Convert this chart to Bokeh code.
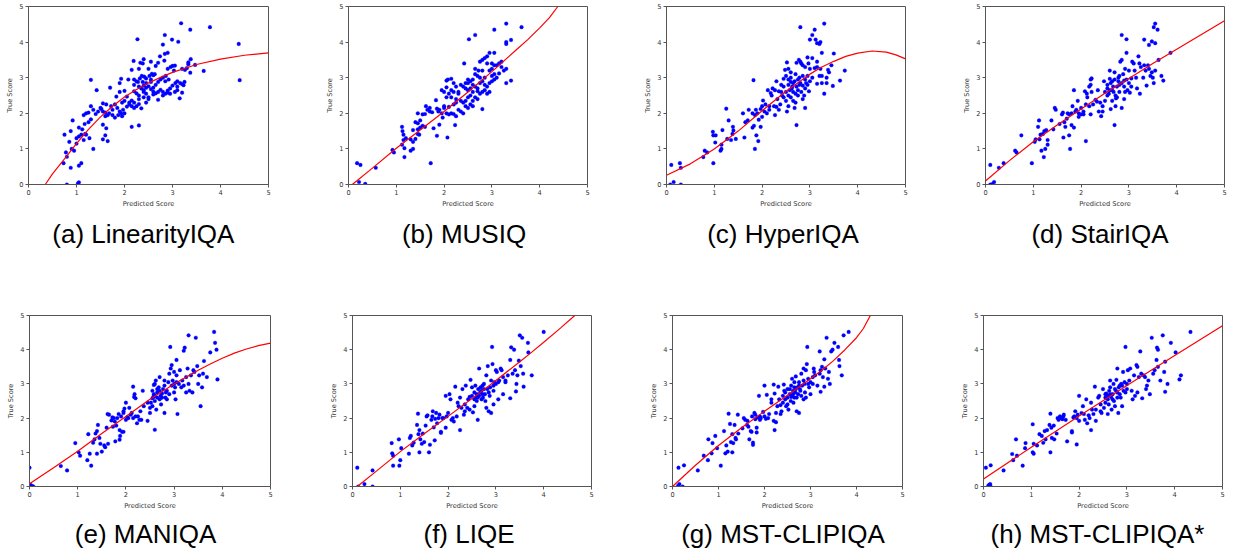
from bokeh.plotting import figure
from bokeh.layouts import row, column
from bokeh.models import Range1d, FixedTicker, Div
from bokeh.embed import file_html
from bokeh.resources import INLINE

captions = ["(a) LinearityIQA", "(b) MUSIQ", "(c) HyperIQA", "(d) StairIQA",
            "(e) MANIQA", "(f) LIQE", "(g) MST-CLIPIQA", "(h) MST-CLIPIQA*"]
tick_values = [0, 1, 2, 3, 4, 5]
x_label = "Predicted Score"
y_label = "True Score"

# (predicted, true) pairs
pts_a = [(3.18,4.53),(3.78,4.42),(3.37,4.35),(2.84,4.2),(2.27,4.08),(2.99,4.07),(3.12,4.01),(4.38,3.95),(2.8,3.93),(2.9,3.7),(2.84,3.67),(2.74,3.6),(2.4,3.52),(2.19,3.47),(2.33,3.42),(2.55,3.45),(2.83,3.48),(3.38,3.52),(3.33,3.43),(3.33,3.38),(3.47,3.36),(3.0,3.33),(2.96,3.3),(3.05,3.34),(2.9,3.25),(3.03,3.2),(3.2,3.25),(3.26,3.22),(3.3,3.27),(3.65,3.19),(3.37,3.14),(4.4,2.93),
         (1.3,2.94),(1.42,2.65),(1.7,2.72),(1.9,2.85),(1.93,2.97),(2.08,2.95),(2.15,3.22),(2.3,3.25),(2.38,3.4),(2.5,3.25),(2.65,3.33),(2.7,3.42),(2.63,3.1),
         (2.2,2.95),(2.25,2.9),(2.28,2.88),(2.32,2.98),(2.36,3.05),(2.41,3.03),(2.45,2.98),(2.52,3.05),(2.57,3.11),(2.6,3.07),(2.2,2.8),(2.3,2.75),(2.35,2.7),(2.4,2.65),(2.45,2.72),(2.5,2.76),(2.55,2.68),(2.6,2.61),(2.65,2.56),(2.7,2.6),(2.75,2.66),(2.8,2.6),(2.85,2.55),(2.9,2.64),(2.95,2.7),(3.0,2.78),(3.06,2.85),(2.7,2.88),(2.75,2.95),(2.8,3.0),(2.86,3.05),(2.92,2.95),(3.1,2.9),(3.16,2.85),(3.2,2.82),(3.25,2.88),(3.23,2.79),(3.1,2.65),(3.05,2.6),(3.2,2.58),(3.15,2.42),(2.8,2.5),(2.7,2.38),(2.6,2.53),(2.5,2.45),(2.45,2.55),(2.4,2.6),(2.3,2.5),(2.25,2.56),(2.2,2.62),(2.15,2.36),(2.1,2.25),(2.05,2.19),(2.0,2.35),(1.95,2.3),(2.2,2.15),(2.25,2.2),(2.3,2.26),(2.35,2.14),(2.45,2.3),(2.5,2.4),(2.3,2.4),(2.2,2.3),(2.4,2.45),(2.6,2.72),(2.65,2.8),(2.55,2.88),(2.45,2.85),(2.95,2.55),(2.9,2.58),(3.1,2.75),(2.85,2.9),(2.55,2.95),(2.38,2.88),
         (1.85,2.15),(1.9,2.05),(1.87,1.95),(1.93,2.0),(1.97,2.1),(1.8,2.25),(1.75,2.1),(1.72,2.2),(1.68,2.0),(1.65,1.95),(1.6,2.02),(1.55,2.05),(1.5,2.15),(1.52,2.12),(1.45,2.05),(1.4,1.98),(1.35,2.1),(1.3,2.2),(1.2,2.0),(1.25,2.02),(1.15,1.95),(1.6,1.92),(1.62,2.25),(1.55,2.28),(1.8,1.88),(1.83,2.47),(1.9,2.6),(2.0,2.63),(2.05,2.47),(1.3,1.83),(1.25,1.75),(1.17,1.7),(1.12,1.55),(1.05,1.6),(1.1,1.4),(1.05,1.35),(1.0,1.15),(0.85,1.2),(0.88,1.5),(0.92,1.8),(0.75,1.4),(0.9,1.0),(0.95,0.95),(0.78,0.9),(0.8,0.78),(0.73,0.6),(0.88,0.47),(1.05,0.53),(1.1,0.6),(0.8,0.0),(1.03,0.03),(1.05,0.06),(1.2,1.4),(1.15,1.25),(1.27,1.3),(1.35,1.0),(1.18,1.42),(1.55,1.68),(1.6,1.38),(1.62,1.58),(1.65,1.22),(1.55,1.27),(2.15,1.62),(2.3,1.66),(2.0,2.0),(2.1,2.3),(2.15,2.2),(2.4,2.78),(1.95,1.92),(1.75,1.95),(1.0,1.3)]

pts_b = [(0.18,0.6),(0.25,0.55),(0.22,0.07),(0.35,0.02),(0.57,0.47),(0.92,0.97),(0.95,0.9),(1.17,0.77),(1.72,0.6),(1.12,1.62),(1.13,1.5),(1.15,1.4),(1.2,1.3),(1.15,1.25),(1.12,1.12),(1.17,1.02),(1.3,0.95),(1.35,1.0),(1.3,1.27),(1.35,1.2),(1.4,1.28),(1.45,1.42),(1.48,1.4),(1.35,1.53),(1.45,1.55),(1.5,1.6),(1.4,1.75),(1.45,1.72),(1.5,1.8),(1.55,1.65),(1.6,1.62),(1.45,2.0),(1.55,1.97),(1.6,1.98),(1.65,2.1),(1.62,2.2),(1.7,2.15),(1.75,2.03),(1.78,1.58),(1.85,1.37),(1.9,1.68),(1.83,2.37),(1.85,2.13),(1.88,2.05),(1.9,2.1),(1.95,2.0),(1.97,1.88),(2.0,2.2),(2.0,2.15),(2.05,2.0),(2.1,1.97),(2.15,2.0),(2.2,1.98),(2.25,1.92),(2.23,1.67),(2.07,1.32),(2.3,2.1),(2.2,2.25),(2.25,2.3),(2.05,2.45),(2.1,2.55),(2.0,2.6),(1.95,2.65),(2.05,2.73),(2.08,2.95),(2.05,2.92),(2.15,2.97),(2.2,2.85),(2.25,2.75),(2.15,2.65),(2.2,2.6),(2.3,2.55),(2.35,2.35),(2.4,2.3),(2.45,2.2),(2.35,2.05),(2.4,2.0),(2.5,2.15),(2.55,2.25),(2.45,2.35),(2.5,2.45),(2.55,2.5),(2.6,2.35),(2.65,2.45),(2.7,2.4),(2.75,2.55),(2.8,2.6),(2.8,2.12),(2.6,2.2),(2.5,2.65),(2.45,2.7),(2.4,2.75),(2.45,2.85),(2.5,2.85),(2.55,2.9),(2.6,2.8),(2.65,2.75),(2.7,2.7),(2.6,2.95),(2.65,3.1),(2.7,3.05),(2.75,3.0),(2.8,2.9),(2.85,2.8),(2.9,2.75),(2.95,2.6),(2.9,2.55),(2.85,2.65),(2.95,2.85),(3.0,2.9),(3.0,3.05),(2.95,3.2),(3.0,3.25),(3.05,3.35),(3.0,3.4),(2.9,3.4),(2.85,3.55),(2.8,3.5),(2.75,3.45),(2.9,3.6),(2.95,3.7),(3.1,3.35),(3.15,3.4),(3.2,3.3),(3.25,3.2),(3.1,3.0),(3.05,3.1),(3.15,3.12),(3.05,2.95),(3.3,2.85),(3.4,2.92),(3.3,3.25),(3.05,3.7),(2.42,3.4),(2.65,3.25),(2.72,3.2),(2.65,4.2),(2.52,4.08),(3.05,4.35),(3.3,4.52),(3.62,4.42),(3.4,4.06),(3.3,4.0),(3.3,3.95),(2.7,2.62),(2.6,2.6),(2.55,2.7),(2.35,2.8),(2.3,2.6),(2.15,2.45),(2.25,2.4),(2.1,2.18),(1.7,2.05),(2.75,2.85),(2.85,3.0),(2.5,2.95),(2.8,3.2),(3.2,3.45)]

pts_c = [(0.08,0.0),(0.15,0.07),(0.3,0.0),(0.1,0.55),(0.28,0.6),(0.3,0.47),(0.77,0.77),(0.8,0.95),(0.85,0.9),(0.98,0.6),(0.98,1.38),(0.97,1.48),(1.03,1.38),(1.02,1.18),(1.15,1.0),(1.13,0.95),(1.15,1.12),(1.17,1.53),(1.25,2.13),(1.3,1.8),(1.27,1.28),(1.35,1.25),(1.38,1.42),(1.4,1.52),(1.39,1.62),(1.45,1.28),(1.6,2.0),(1.63,1.32),(1.65,1.75),(1.7,1.8),(1.72,2.1),(1.8,2.0),(1.82,2.93),(1.8,1.6),(1.83,1.65),(1.85,1.95),(1.87,2.1),(1.9,2.0),(1.93,1.82),(1.88,1.38),(1.92,1.22),(1.85,1.0),(1.97,1.62),(1.97,2.12),(2.0,2.2),(2.02,2.36),(2.05,2.05),(2.07,2.25),(2.1,2.0),(2.15,2.2),(2.12,2.65),(2.18,2.57),(2.2,2.5),(2.25,2.2),(2.3,2.18),(2.35,2.1),(2.27,1.95),(2.22,2.7),(2.27,2.65),(2.3,2.9),(2.35,2.62),(2.4,2.8),(2.45,2.97),(2.5,3.05),(2.48,3.22),(2.52,3.43),(2.45,2.75),(2.5,2.6),(2.55,2.5),(2.5,2.35),(2.55,2.2),(2.52,2.05),(2.55,2.8),(2.6,2.88),(2.62,2.7),(2.65,2.6),(2.6,2.45),(2.65,2.35),(2.7,2.3),(2.68,2.15),(2.72,1.67),(2.75,2.5),(2.72,2.75),(2.75,2.95),(2.7,3.1),(2.72,3.42),(2.77,3.5),(2.8,3.45),(2.82,3.4),(2.85,3.35),(2.78,3.0),(2.8,2.85),(2.85,2.78),(2.9,2.7),(2.88,2.5),(2.85,2.4),(2.9,2.15),(2.95,2.8),(2.98,2.62),(3.0,2.9),(2.95,3.05),(3.0,3.25),(2.9,3.3),(2.95,3.57),(3.05,3.55),(3.1,3.27),(3.15,3.3),(3.2,3.05),(3.22,3.25),(3.25,3.05),(3.15,2.83),(3.25,2.85),(3.35,2.85),(3.3,2.55),(3.35,3.0),(3.4,3.15),(3.45,3.35),(3.38,3.22),(3.48,2.77),(3.5,3.68),(3.63,2.92),(3.73,3.2),(3.15,3.45),(2.8,4.42),(3.3,4.52),(3.1,4.35),(3.05,4.2),(3.0,4.07),(3.12,4.07),(3.15,3.97),(3.2,3.95),(3.22,4.0),(3.25,3.7),(2.65,2.85),(2.6,3.0),(2.55,2.95),(2.4,2.6),(2.45,2.45),(2.58,2.65),(2.68,2.9),(2.75,2.65),(2.82,2.6),(2.92,2.85),(3.05,3.0),(2.63,2.75),(2.7,2.55),(2.85,3.05),(2.9,2.95),(2.78,2.8),(2.0,1.9),(2.15,2.1),(2.32,2.4),(2.42,2.5),(2.38,2.25),(2.6,3.15),(2.55,3.25),(2.97,3.4)]

pts_d = [(0.1,0.55),(0.1,0.0),(0.15,0.02),(0.18,0.07),(0.28,0.47),(0.38,0.6),(0.62,0.95),(0.65,0.9),(0.75,1.38),(0.97,0.6),(1.03,1.2),(1.05,1.27),(1.1,1.62),(1.12,1.8),(1.15,1.4),(1.13,1.27),(1.17,0.95),(1.2,1.42),(1.23,1.5),(1.27,1.53),(1.22,0.77),(1.25,1.0),(1.3,1.25),(1.3,1.12),(1.38,1.8),(1.45,2.15),(1.47,2.1),(1.42,1.55),(1.55,1.7),(1.6,1.97),(1.62,2.02),(1.63,1.32),(1.65,1.75),(1.67,1.62),(1.7,1.85),(1.72,2.0),(1.75,1.38),(1.77,1.0),(1.75,1.97),(1.8,2.0),(1.82,2.2),(1.8,1.67),(1.85,1.6),(1.85,2.65),(1.88,2.05),(1.9,2.1),(1.93,2.35),(1.95,2.0),(1.95,1.9),(2.0,2.15),(2.0,1.97),(2.05,2.05),(2.05,1.97),(2.08,2.62),(2.1,2.25),(2.12,2.55),(2.1,1.22),(2.13,2.45),(2.17,2.75),(2.17,2.2),(2.2,2.95),(2.22,2.98),(2.2,2.8),(2.22,2.6),(2.2,1.97),(2.25,2.25),(2.3,2.38),(2.35,2.65),(2.33,2.33),(2.37,2.05),(2.4,2.3),(2.42,1.92),(2.45,2.2),(2.45,2.05),(2.5,2.35),(2.5,2.6),(2.48,2.9),(2.55,2.8),(2.55,2.5),(2.6,2.97),(2.6,3.2),(2.62,2.85),(2.6,2.65),(2.62,2.12),(2.65,2.35),(2.65,2.65),(2.67,2.75),(2.7,3.15),(2.7,2.95),(2.72,2.5),(2.72,2.2),(2.73,2.42),(2.7,1.67),(2.75,2.45),(2.75,2.75),(2.78,2.9),(2.8,2.8),(2.8,2.6),(2.82,3.45),(2.85,3.5),(2.85,4.2),(2.88,3.1),(2.9,2.92),(2.9,2.75),(2.85,2.15),(2.9,2.4),(2.92,3.25),(2.95,3.7),(2.95,4.08),(2.97,2.65),(3.0,2.85),(3.0,3.2),(3.02,2.58),(3.05,2.75),(3.07,3.45),(3.1,3.4),(3.12,3.2),(3.15,3.0),(3.17,2.7),(3.2,3.6),(3.22,3.4),(3.25,3.3),(3.23,2.55),(3.3,3.0),(3.32,3.35),(3.35,3.2),(3.37,2.78),(3.4,3.35),(3.42,3.25),(3.45,3.05),(3.48,3.15),(3.5,3.0),(3.52,2.85),(3.55,3.2),(3.62,3.5),(3.68,3.05),(3.72,2.92),(3.87,3.7),(3.32,4.07),(3.42,3.92),(3.48,4.02),(3.52,4.42),(3.55,4.52),(3.6,4.35),(3.55,3.97),(2.78,3.0),(2.65,2.9),(2.55,2.7),(2.85,2.85),(2.95,2.95),(2.58,2.55),(2.68,2.6),(2.92,2.6),(2.8,3.05),(3.05,2.98)]

pts_e = [(0.0,0.55),(0.02,0.05),(0.05,0.02),(0.08,0.0),(0.65,0.6),(0.78,0.47),(0.95,1.27),(1.02,1.0),(1.05,0.9),(1.2,0.77),(1.22,1.53),(1.25,0.96),(1.28,0.61),(1.32,1.28),(1.35,1.38),(1.37,1.55),(1.4,1.62),(1.42,1.8),(1.4,0.96),(1.45,1.42),(1.47,1.25),(1.5,1.02),(1.55,1.2),(1.57,1.15),(1.6,1.72),(1.62,2.12),(1.65,2.1),(1.63,1.25),(1.7,1.93),(1.72,2.02),(1.75,2.0),(1.73,1.75),(1.77,1.9),(1.78,1.32),(1.8,1.78),(1.82,2.0),(1.85,2.12),(1.87,1.65),(1.88,1.48),(1.87,1.37),(1.9,2.05),(1.92,1.6),(1.95,1.6),(1.95,2.2),(1.97,2.28),(2.0,2.45),(2.0,1.95),(2.03,2.03),(2.05,2.0),(2.07,2.3),(2.1,2.1),(2.15,2.0),(2.15,2.92),(2.17,2.62),(2.18,2.7),(2.2,2.58),(2.2,2.05),(2.23,1.85),(2.25,2.05),(2.28,1.95),(2.3,2.2),(2.32,1.95),(2.35,2.8),(2.37,2.35),(2.45,1.92),(2.5,2.15),(2.5,2.3),(2.52,2.45),(2.55,2.58),(2.55,2.35),(2.57,2.62),(2.58,2.7),(2.58,2.97),(2.6,3.0),(2.6,2.5),(2.6,1.66),(2.62,3.1),(2.63,2.25),(2.65,2.6),(2.65,2.75),(2.68,2.9),(2.7,3.2),(2.7,2.8),(2.72,2.65),(2.73,2.4),(2.75,2.72),(2.77,2.85),(2.8,2.95),(2.8,2.15),(2.82,2.6),(2.83,2.75),(2.85,2.55),(2.88,3.05),(2.9,3.3),(2.92,4.08),(2.93,3.45),(2.95,3.55),(2.97,3.1),(3.0,3.0),(3.0,2.75),(3.02,2.9),(3.03,2.55),(3.05,3.25),(3.05,3.7),(3.07,2.12),(3.1,3.0),(3.12,3.4),(3.15,2.9),(3.17,3.1),(3.2,2.95),(3.2,3.97),(3.22,4.06),(3.25,2.75),(3.25,3.2),(3.28,3.45),(3.3,3.0),(3.3,4.42),(3.32,2.8),(3.35,3.25),(3.38,2.75),(3.4,3.4),(3.45,4.35),(3.42,3.35),(3.48,3.52),(3.5,3.0),(3.52,3.25),(3.55,2.35),(3.58,2.9),(3.6,3.3),(3.62,3.67),(3.68,3.2),(3.75,3.92),(3.83,4.52),(3.85,4.2),(3.88,4.0),(3.9,3.13),(2.65,2.85),(2.75,2.6),(2.85,2.8),(2.95,2.95),(2.6,2.65),(2.7,2.55),(2.9,2.7),(3.05,3.05),(2.55,2.8),(2.45,2.45),(2.8,3.1),(3.0,3.35),(1.95,2.15),(2.12,2.15)]

pts_f = [(0.1,0.55),(0.12,0.0),(0.25,0.07),(0.42,0.0),(0.42,0.47),(0.82,1.27),(0.83,0.97),(0.85,0.9),(0.85,0.61),(0.97,1.38),(0.98,0.61),(1.0,0.77),(1.02,1.12),(1.18,0.96),(1.2,1.42),(1.22,1.48),(1.25,1.2),(1.28,1.28),(1.35,1.8),(1.37,2.13),(1.38,1.53),(1.4,1.65),(1.42,1.38),(1.4,1.0),(1.45,1.25),(1.47,1.55),(1.5,1.3),(1.53,1.78),(1.55,2.05),(1.57,2.08),(1.6,1.0),(1.62,1.22),(1.65,1.95),(1.67,2.05),(1.68,2.2),(1.7,1.73),(1.72,1.35),(1.73,1.98),(1.75,2.15),(1.77,1.85),(1.8,2.0),(1.82,2.1),(1.85,1.6),(1.85,1.57),(1.88,2.0),(1.9,2.0),(1.95,2.65),(1.95,1.72),(1.97,2.05),(2.0,2.15),(2.03,2.7),(2.05,2.55),(2.07,1.95),(2.1,2.0),(2.12,1.9),(2.15,2.92),(2.18,2.05),(2.2,2.45),(2.22,2.35),(2.25,2.6),(2.25,1.65),(2.28,2.3),(2.3,2.85),(2.33,2.1),(2.35,2.2),(2.37,2.95),(2.4,2.3),(2.42,2.55),(2.45,2.25),(2.47,3.12),(2.5,2.9),(2.5,2.65),(2.52,2.17),(2.55,2.35),(2.55,2.75),(2.57,2.95),(2.58,2.6),(2.6,2.7),(2.6,2.5),(2.62,1.95),(2.63,2.85),(2.65,3.45),(2.65,2.65),(2.67,2.75),(2.7,2.8),(2.7,2.55),(2.72,2.95),(2.73,2.6),(2.75,3.0),(2.77,2.7),(2.78,2.5),(2.8,3.25),(2.8,2.3),(2.82,2.85),(2.83,3.52),(2.85,2.2),(2.87,2.65),(2.88,2.9),(2.9,2.15),(2.92,4.08),(2.93,3.58),(2.95,2.4),(2.95,2.8),(2.97,3.05),(3.0,3.0),(3.0,3.4),(3.02,3.35),(3.05,2.55),(3.07,3.1),(3.1,3.45),(3.12,3.4),(3.15,2.7),(3.15,3.2),(3.2,3.1),(3.2,3.05),(3.25,3.25),(3.3,3.7),(3.3,2.58),(3.32,4.07),(3.35,3.3),(3.38,4.0),(3.4,3.4),(3.42,2.78),(3.43,3.0),(3.45,3.25),(3.48,3.68),(3.5,4.42),(3.52,3.52),(3.55,4.35),(3.57,3.3),(3.58,2.92),(3.68,3.92),(3.67,4.2),(3.75,3.25),(4.0,4.52),(2.68,2.9),(2.75,2.85),(2.9,3.1),(2.62,2.6),(2.72,2.7),(2.85,2.75),(3.05,3.05),(2.95,2.95),(2.55,2.55),(2.45,2.62),(2.35,2.4)]

pts_g = [(0.13,0.55),(0.15,0.07),(0.12,0.02),(0.22,0.0),(0.25,0.62),(0.55,0.47),(0.68,0.9),(0.77,0.77),(0.78,1.38),(0.85,0.97),(0.87,1.27),(0.93,1.48),(0.97,1.12),(1.05,0.61),(1.12,1.62),(1.15,0.97),(1.17,1.2),(1.2,1.02),(1.22,2.13),(1.25,1.83),(1.27,1.3),(1.3,1.53),(1.32,1.27),(1.3,1.0),(1.35,1.8),(1.37,1.42),(1.38,1.38),(1.43,1.55),(1.42,2.1),(1.52,1.7),(1.55,2.0),(1.58,1.95),(1.62,1.8),(1.63,1.92),(1.65,1.75),(1.67,1.38),(1.7,1.62),(1.72,1.6),(1.75,1.28),(1.75,1.22),(1.73,2.05),(1.78,2.15),(1.8,2.1),(1.8,1.97),(1.83,1.72),(1.83,1.58),(1.85,2.02),(1.88,2.65),(1.9,2.05),(1.92,2.0),(1.97,2.18),(2.0,2.95),(2.0,2.05),(2.03,1.98),(2.05,2.68),(2.1,2.12),(2.15,2.45),(2.15,2.55),(2.2,2.98),(2.2,1.92),(2.22,2.72),(2.22,1.65),(2.25,1.88),(2.25,2.15),(2.28,2.35),(2.3,2.92),(2.32,2.55),(2.35,2.12),(2.35,2.38),(2.37,2.2),(2.4,2.65),(2.42,2.98),(2.43,2.8),(2.45,2.55),(2.47,2.35),(2.5,2.6),(2.5,2.85),(2.52,2.25),(2.55,2.7),(2.57,2.5),(2.58,2.95),(2.6,3.15),(2.6,2.65),(2.62,2.8),(2.63,2.45),(2.65,3.05),(2.65,2.6),(2.67,2.75),(2.68,3.22),(2.7,2.2),(2.72,2.9),(2.73,2.7),(2.75,2.15),(2.75,3.05),(2.77,2.85),(2.8,3.3),(2.8,2.65),(2.82,2.95),(2.85,3.45),(2.85,2.55),(2.87,3.0),(2.88,2.75),(2.9,3.4),(2.9,2.6),(2.92,3.58),(2.93,4.08),(2.95,3.15),(2.97,2.9),(3.0,3.05),(3.0,2.7),(3.05,3.0),(3.07,3.45),(3.08,3.35),(3.1,3.25),(3.15,2.95),(3.2,3.3),(3.2,3.95),(3.22,3.4),(3.22,2.77),(3.25,3.5),(3.27,3.2),(3.3,3.72),(3.3,2.92),(3.32,3.45),(3.35,4.35),(3.38,3.15),(3.4,3.35),(3.42,3.0),(3.45,3.95),(3.48,4.0),(3.52,4.2),(3.6,4.08),(3.62,3.7),(3.63,3.52),(3.68,3.25),(3.72,4.42),(3.83,4.52),(2.55,2.85),(2.65,2.9),(2.7,2.6),(2.75,2.95),(2.78,2.8),(2.62,2.7),(2.68,2.85),(2.58,2.62),(2.45,2.75),(2.85,3.1),(2.95,3.0),(3.05,3.2),(2.5,2.4),(2.4,2.45),(1.9,1.95),(2.08,2.0)]

pts_h = [(0.05,0.55),(0.1,0.02),(0.12,0.05),(0.14,0.07),(0.15,0.0),(0.15,0.62),(0.42,0.47),(0.6,0.95),(0.62,0.77),(0.68,1.38),(0.7,0.9),(0.82,0.61),(0.87,1.12),(0.88,1.27),(1.03,1.82),(1.03,1.0),(1.05,0.96),(1.05,1.25),(1.12,1.2),(1.17,1.53),(1.22,1.48),(1.25,1.28),(1.28,1.62),(1.3,1.38),(1.33,1.65),(1.38,1.8),(1.4,1.0),(1.4,2.13),(1.42,1.72),(1.43,1.42),(1.47,1.78),(1.48,1.38),(1.53,1.55),(1.55,2.0),(1.57,1.95),(1.6,2.05),(1.62,2.0),(1.65,1.97),(1.68,2.1),(1.67,2.05),(1.72,1.95),(1.75,1.32),(1.85,1.62),(1.85,1.58),(1.88,2.02),(1.9,2.05),(1.92,2.2),(1.95,2.0),(1.95,1.23),(1.97,2.1),(2.0,2.65),(2.0,1.92),(2.05,2.15),(2.08,2.35),(2.1,2.12),(2.12,1.95),(2.15,2.55),(2.17,1.85),(2.2,2.08),(2.22,2.0),(2.25,2.45),(2.25,1.65),(2.27,2.25),(2.3,2.12),(2.33,2.92),(2.35,1.92),(2.4,2.6),(2.42,2.65),(2.45,2.2),(2.47,2.15),(2.5,2.85),(2.52,2.3),(2.55,2.6),(2.55,2.45),(2.57,2.72),(2.6,2.12),(2.6,2.55),(2.62,2.4),(2.63,2.8),(2.65,3.1),(2.65,2.9),(2.67,2.62),(2.68,2.25),(2.7,2.7),(2.72,3.0),(2.73,2.5),(2.75,2.35),(2.77,2.8),(2.78,3.12),(2.8,3.45),(2.8,2.75),(2.82,2.15),(2.83,2.9),(2.85,2.95),(2.87,2.6),(2.88,3.0),(2.9,2.35),(2.92,3.35),(2.93,2.8),(2.95,3.05),(2.97,4.08),(2.97,2.75),(3.0,3.0),(3.02,3.4),(3.05,3.1),(3.07,3.45),(3.1,2.8),(3.12,2.55),(3.15,3.25),(3.17,2.65),(3.2,3.55),(3.22,3.5),(3.22,2.75),(3.25,3.2),(3.28,3.95),(3.3,3.3),(3.32,2.58),(3.35,3.25),(3.38,3.2),(3.4,2.85),(3.42,2.95),(3.45,3.1),(3.48,2.7),(3.52,4.35),(3.55,3.3),(3.58,3.4),(3.62,3.7),(3.63,4.06),(3.65,4.0),(3.65,3.5),(3.7,3.1),(3.75,4.42),(3.78,3.35),(3.8,2.77),(3.8,3.65),(3.85,3.0),(3.92,4.2),(4.02,3.92),(4.1,3.13),(4.13,3.25),(4.33,4.52),(2.65,2.7),(2.75,2.85),(2.85,2.7),(2.7,2.55),(2.6,2.65),(2.9,2.95),(3.0,2.85),(2.55,2.7),(2.8,2.6),(2.45,2.4),(2.35,2.25)]

# fitted curves
fit_a = [(0.35,0.0),(0.5,0.3),(0.75,0.72),(1.0,1.15),(1.25,1.55),(1.5,1.9),(1.75,2.2),(2.0,2.46),(2.25,2.67),(2.5,2.85),(2.75,3.01),(3.0,3.15),(3.5,3.37),(4.0,3.52),(4.5,3.63),(5.0,3.7)]
fit_b = [(0.08,0.0),(0.5,0.46),(1.0,1.02),(1.5,1.53),(2.0,2.05),(2.5,2.6),(3.0,3.17),(3.5,3.77),(3.75,4.07),(4.0,4.4),(4.2,4.68),(4.38,5.0)]
fit_c = [(0.0,0.26),(0.5,0.58),(1.0,1.0),(1.5,1.5),(2.0,2.07),(2.5,2.62),(3.0,3.1),(3.25,3.3),(3.5,3.46),(3.75,3.6),(4.0,3.69),(4.3,3.75),(4.6,3.72),(4.8,3.64),(5.0,3.53)]
fit_d = [(0.0,0.1),(0.5,0.67),(1.0,1.2),(1.5,1.67),(2.0,2.12),(2.5,2.56),(3.0,2.98),(3.5,3.4),(4.0,3.8),(4.5,4.2),(5.0,4.6)]
fit_e = [(0.0,0.08),(0.5,0.55),(1.0,1.03),(1.5,1.55),(2.0,2.05),(2.5,2.55),(3.0,3.0),(3.5,3.4),(3.75,3.58),(4.0,3.75),(4.25,3.9),(4.5,4.02),(4.75,4.12),(5.0,4.19)]
fit_f = [(0.1,0.0),(0.5,0.45),(1.0,1.02),(1.5,1.54),(2.0,2.05),(2.5,2.57),(3.0,3.1),(3.5,3.65),(3.75,3.93),(4.0,4.22),(4.35,4.63),(4.65,5.0)]
fit_g = [(0.0,0.0),(0.5,0.62),(1.0,1.2),(1.5,1.72),(2.0,2.2),(2.5,2.67),(3.0,3.15),(3.25,3.4),(3.5,3.68),(3.75,4.0),(4.0,4.35),(4.15,4.62),(4.3,5.0)]
fit_h = [(0.0,0.22),(1.0,1.15),(2.0,2.06),(3.0,2.95),(4.0,3.83),(5.0,4.7)]

points = [pts_a, pts_b, pts_c, pts_d, pts_e, pts_f, pts_g, pts_h]
fits = [fit_a, fit_b, fit_c, fit_d, fit_e, fit_f, fit_g, fit_h]

# plot geometry: (left border, frame width, right border, top border, frame height, bottom border)
geom = [(28, 240, 55, 6, 178, 36), (24, 240, 54, 6, 178, 36), (24, 240, 55, 6, 178, 36), (24, 240, 5, 6, 178, 36),
        (29, 241, 57, 10, 180, 36), (24, 240, 56, 10, 180, 36), (24, 231, 56, 19, 172, 35), (24, 240, 6, 10, 180, 36)]
# caption strips: (width, height, line-box top, centres)
cap_geom = [(1229, 76, -1, [143.4, 464, 783, 1100]),
            (1229, 32, -3, [145.6, 469, 783, 1097.5])]

TXT = "#333333"
SPINE = "#555555"


def make(i):
    l, fw, r, t, fh, b = geom[i]
    p = figure(width=l + fw + r, height=t + fh + b, min_border_left=l, min_border_right=r,
               min_border_top=t, min_border_bottom=b, title=None,
               x_range=Range1d(0, 5), y_range=Range1d(0, 5),
               toolbar_location=None, output_backend="svg")
    p.background_fill_color = "white"
    p.border_fill_color = "white"
    p.outline_line_color = SPINE
    p.outline_line_width = 1
    p.grid.visible = False
    for ax in (p.xaxis[0], p.yaxis[0]):
        ax.ticker = FixedTicker(ticks=tick_values)
        ax.minor_tick_line_color = None
        ax.major_tick_in = 0
        ax.major_tick_out = 3
        ax.major_tick_line_color = SPINE
        ax.axis_line_color = SPINE
        ax.major_label_text_font = "DejaVu Sans"
        ax.major_label_text_font_size = "6.6px"
        ax.major_label_text_color = TXT
        ax.major_label_standoff = 2
        ax.axis_label_text_font = "DejaVu Sans"
        ax.axis_label_text_font_size = "6.6px"
        ax.axis_label_text_font_style = "normal"
        ax.axis_label_text_color = TXT
        ax.axis_label_standoff = 2
    p.xaxis.axis_label = x_label
    p.yaxis.axis_label = y_label
    xs = [q[0] for q in points[i]]
    ys = [q[1] for q in points[i]]
    p.scatter(xs, ys, size=3.7, fill_color="blue", line_color="blue", line_width=0.3)
    fx = [q[0] for q in fits[i]]
    fy = [q[1] for q in fits[i]]
    p.line(fx, fy, line_color="red", line_width=1.2)
    return p


def caption_strip(k, texts):
    w, h, top, centres = cap_geom[k]
    spans = "".join(
        '<span style="position:absolute;left:%.1fpx;top:%dpx;transform:translateX(-50%%);'
        'white-space:nowrap;font-family:\'Liberation Sans\',Arial,sans-serif;font-size:26px;'
        'line-height:30px;color:#000;">%s</span>' % (cx, top, t)
        for cx, t in zip(centres, texts))
    html = '<div style="position:relative;width:%dpx;height:%dpx;">%s</div>' % (w, h, spans)
    return Div(text=html, width=w, height=h, margin=0, styles={"overflow": "visible"})


figs = [make(i) for i in range(8)]
layout = column(row(*figs[:4]), caption_strip(0, captions[:4]),
                row(*figs[4:]), caption_strip(1, captions[4:]))
open("out.html", "w").write(file_html(layout, INLINE))
